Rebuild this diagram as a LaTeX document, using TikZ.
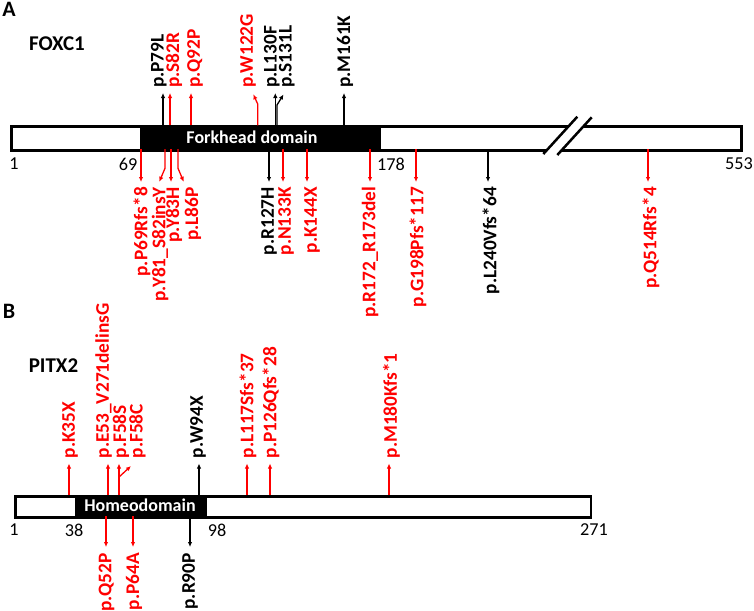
\documentclass[tikz,border=0pt]{standalone}
\usepackage{fontspec}
\setmainfont{Carlito}
\usetikzlibrary{arrows.meta}
\newcommand\mutfont{\fontsize{19.3}{20}\selectfont\bfseries}
\newcommand\numfont{\fontsize{18.2}{19}\selectfont}
\tikzset{
  barbox/.style={draw, line width=2.5pt, inner sep=0pt, anchor=north west},
  dombox/.style={fill=black, inner sep=0pt, anchor=north west},
  domtext/.style={text=white, font=\fontsize{18}{18}\selectfont\bfseries, inner sep=0pt},
  num/.style={font=\numfont, inner sep=0pt},
  mut/.style={font=\mutfont, inner sep=0pt, rotate=90},
  uplab/.style={mut, anchor=west},
  dnlab/.style={mut, anchor=east},
  arr/.style={line width=1.3pt, -{Latex[length=5pt,width=4.5pt]}},
  sarr/.style={arr, shorten >=5pt},
  brk/.style={line width=2.5pt},
}
\begin{document}
\begin{tikzpicture}[x=1pt,y=-1pt]
\useasboundingbox (0,0) rectangle (754,610);

% ---------------- A : FOXC1 ----------------
\node[font=\fontsize{22}{22}\selectfont\bfseries, inner sep=0pt] (A) at (9,9.5) {A};
\node[font=\fontsize{21}{21}\selectfont\bfseries, inner sep=0pt] (foxc1) at (57,43.5) {FOXC1};

\node[barbox, minimum width=730pt, minimum height=23.7pt] (fbar) at (10,125.3) {};
\node[dombox, minimum width=241pt, minimum height=23.7pt] (fdom) at (140,125.3) {};
\node[domtext] (fdomt) at (252,137.5) {Forkhead domain};

% break mark
\fill[white] (543.3,154) -- (577.3,116.7) -- (591.7,117.3) -- (557.3,155) -- cycle;
\draw[brk] (543.3,154) -- (577.3,116.7);
\draw[brk] (557.3,155) -- (591.7,117.3);

\node[num] (f1) at (14,164) {1};
\node[num] (f69) at (128,164) {69};
\node[num] (f178) at (391,164.5) {178};
\node[num] (f553) at (739,164) {553};

% upper mutations
\node[uplab] (P79L) at (158.7,88) {p.P79L};
\node[uplab, red] (S82R) at (174,88) {p.S82R};
\node[uplab, red] (Q92P) at (195,88) {p.Q92P};
\node[uplab, red] (W122G) at (248,88) {p.W122G};
\node[uplab] (L130F) at (271.7,88) {p.L130F};
\node[uplab] (S131L) at (286.7,88) {p.S131L};
\node[uplab] (M161K) at (345,88) {p.M161K};

\coordinate (cP79L) at (163,125.3);
\coordinate (cS82R) at (170,125.3);
\coordinate (cQ92P) at (191,125.3);
\coordinate (cW122G) at (257.7,125.3);
\coordinate (cL130F) at (275.3,125.3);
\coordinate (cS131L) at (277,125.3);
\coordinate (cM161K) at (344,125.3);

\draw[sarr] (cP79L) -- (cP79L |- P79L.west);
\draw[sarr, red] (cS82R) -- (cS82R |- S82R.west);
\draw[sarr, red] (cQ92P) -- (cQ92P |- Q92P.west);
\draw[arr, red] (cW122G) -- ++(0,-21.3) -- ++(-4.4,-9.7);
\draw[sarr] (cL130F) -- (cL130F |- L130F.west);
\draw[arr] (cS131L) -- ++(0,-20.3) -- ++(6.5,-10.5);
\draw[sarr] (cM161K) -- (cM161K |- M161K.west);

% lower mutations
\node[dnlab, red] (P69) at (142,187) {p.P69Rfs*8};
\node[dnlab, red] (Y81) at (160,187) {p.Y81\_S82insY};
\node[dnlab, red] (Y83H) at (174,187) {p.Y83H};
\node[dnlab, red] (L86P) at (193,187) {p.L86P};
\node[dnlab] (R127H) at (269,187) {p.R127H};
\node[dnlab, red] (N133K) at (286,187) {p.N133K};
\node[dnlab, red] (K144X) at (312,187) {p.K144X};
\node[dnlab, red] (R172) at (370,187) {p.R172\_R173del};
\node[dnlab, red] (G198) at (418,187) {p.G198Pfs*117};
\node[dnlab] (L240) at (491,187) {p.L240Vfs*64};
\node[dnlab, red] (Q514) at (651,187) {p.Q514Rfs*4};

\coordinate (cP69) at (141,149);
\coordinate (cY81) at (165,149);
\coordinate (cY83H) at (171,149);
\coordinate (cL86P) at (178,149);
\coordinate (cR127H) at (269,149);
\coordinate (cN133K) at (283,149);
\coordinate (cK144X) at (307,149);
\coordinate (cR172) at (370,149);
\coordinate (cG198) at (416,149);
\coordinate (cL240) at (488,149);
\coordinate (cQ514) at (648,149);

\draw[sarr, red] (cP69) -- (cP69 |- P69.east);
\draw[arr, red] (cY81) -- ++(0,19.3) -- ++(-5.7,13.4);
\draw[sarr, red] (cY83H) -- (cY83H |- Y83H.east);
\draw[arr, red] (cL86P) -- ++(0,19.3) -- ++(5.7,13.4);
\draw[sarr] (cR127H) -- (cR127H |- R127H.east);
\draw[sarr, red] (cN133K) -- (cN133K |- N133K.east);
\draw[sarr, red] (cK144X) -- (cK144X |- K144X.east);
\draw[sarr, red] (cR172) -- (cR172 |- R172.east);
\draw[sarr, red] (cG198) -- (cG198 |- G198.east);
\draw[sarr] (cL240) -- (cL240 |- L240.east);
\draw[sarr, red] (cQ514) -- (cQ514 |- Q514.east);

% ---------------- B : PITX2 ----------------
\node[font=\fontsize{22}{22}\selectfont\bfseries, inner sep=0pt] (B) at (9,311.5) {B};
\node[font=\fontsize{21}{21}\selectfont\bfseries, inner sep=0pt] (pitx2) at (53.5,366) {PITX2};

\node[barbox, minimum width=575.5pt, minimum height=21pt] (pbar) at (14,495) {};
\node[dombox, minimum width=132pt, minimum height=21pt] (pdom) at (75,495) {};
\node[domtext] (pdomt) at (140,505.5) {Homeodomain};

\node[num] (p1) at (14,530) {1};
\node[num] (p38) at (74,530) {38};
\node[num] (p98) at (217,530) {98};
\node[num] (p271) at (594,529.5) {271};

% upper mutations
\node[uplab, red] (K35X) at (70,458.5) {p.K35X};
\node[uplab, red] (E53) at (103.5,458.5) {p.E53\_V271delinsG};
\node[uplab, red] (F58S) at (121,458.5) {p.F58S};
\node[uplab, red] (F58C) at (137.5,458.5) {p.F58C};
\node[uplab] (W94X) at (198,458.5) {p.W94X};
\node[uplab, red] (L117) at (248,458.5) {p.L117Sfs*37};
\node[uplab, red] (P126) at (271,458.5) {p.P126Qfs*28};
\node[uplab, red] (M180) at (391.5,458.5) {p.M180Kfs*1};

\coordinate (cK35X) at (69,495);
\coordinate (cE53) at (108,495);
\coordinate (cF58) at (119,495);
\coordinate (cW94X) at (199,495);
\coordinate (cL117) at (247,495);
\coordinate (cP126) at (270,495);
\coordinate (cM180) at (389,495);

\draw[sarr, red] (cK35X) -- (cK35X |- K35X.west);
\draw[sarr, red] (cE53) -- (cE53 |- E53.west);
\draw[sarr, red] (cF58) -- (cF58 |- F58S.west);
\draw[arr, red] (cF58) ++(0,-18) -- ++(12,-11);
\draw[sarr] (cW94X) -- (cW94X |- W94X.west);
\draw[sarr, red] (cL117) -- (cL117 |- L117.west);
\draw[sarr, red] (cP126) -- (cP126 |- P126.west);
\draw[sarr, red] (cM180) -- (cM180 |- M180.west);

% lower mutations
\node[dnlab, red] (Q52P) at (106.5,553) {p.Q52P};
\node[dnlab, red] (P64A) at (134,553) {p.P64A};
\node[dnlab] (R90P) at (190,553) {p.R90P};

\coordinate (cQ52P) at (106,516);
\coordinate (cP64A) at (133,516);
\coordinate (cR90P) at (190,516);

\draw[sarr, red, shorten >=6pt] (cQ52P) -- (cQ52P |- Q52P.east);
\draw[sarr, red, shorten >=6pt] (cP64A) -- (cP64A |- P64A.east);
\draw[sarr, shorten >=6pt] (cR90P) -- (cR90P |- R90P.east);
\end{tikzpicture}
\end{document}
